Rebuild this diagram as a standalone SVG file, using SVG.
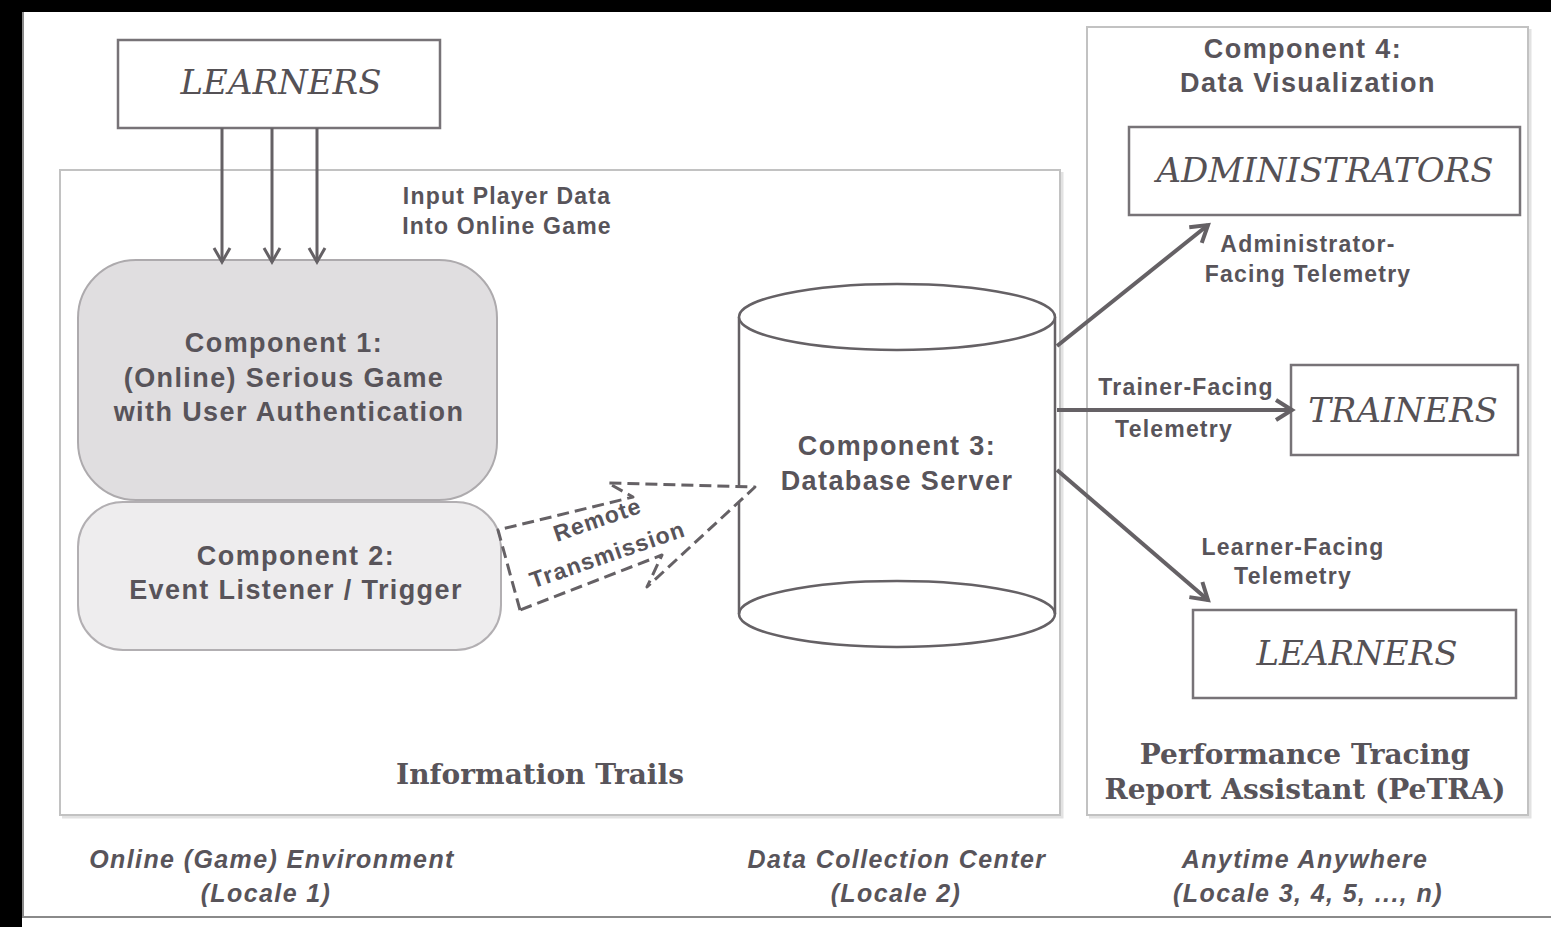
<svg xmlns="http://www.w3.org/2000/svg" width="1551" height="927" viewBox="0 0 1551 927">
  <style>
    .panel { fill: #ffffff; stroke: #c2c2c2; stroke-width: 2; }
    .shadow { fill: none; stroke: #e2e2e2; stroke-width: 3; }
    .box { fill: #ffffff; stroke: #777377; stroke-width: 2.5; }
    .who { font-family: "DejaVu Serif", Georgia, serif; font-style: italic; font-size: 34px; fill: #555155; text-anchor: middle; }
    .bold { font-family: "Liberation Sans", Arial, sans-serif; font-weight: bold; fill: #58545a; text-anchor: middle; }
    .lbl { font-size: 23px; letter-spacing: 1.2px; }
    .comp { font-size: 27px; letter-spacing: 1.4px; }
    .title { font-family: "DejaVu Serif", Georgia, serif; font-weight: bold; font-size: 28px; fill: #58545a; text-anchor: middle; }
    .locale { font-family: "Liberation Sans", Arial, sans-serif; font-style: italic; font-weight: bold; font-size: 25px; letter-spacing: 1.4px; fill: #58545a; text-anchor: middle; }
    .link { fill: none; stroke: #656165; }
  </style>
  <defs>
    <marker id="vHead" viewBox="0 0 20 20" refX="17" refY="10" markerWidth="20" markerHeight="20" markerUnits="userSpaceOnUse" orient="auto">
      <path d="M3,2 L17,10 L3,18" fill="none" stroke="#656165" stroke-width="3"/>
    </marker>
    <marker id="vHeadBig" viewBox="0 0 24 24" refX="20" refY="12" markerWidth="24" markerHeight="24" markerUnits="userSpaceOnUse" orient="auto">
      <path d="M4,2 L20,12 L4,22" fill="none" stroke="#656165" stroke-width="4"/>
    </marker>
  </defs>

  <!-- page background and frame -->
  <rect x="0" y="0" width="1551" height="927" fill="#000000"/>
  <rect x="22" y="12" width="1529" height="915" fill="#ffffff"/>
  <path d="M23,12 V917 H1551" fill="none" stroke="#8a8a8a" stroke-width="2"/>

  <!-- locale panels -->
  <g id="locale-panel-1-2">
    <path class="shadow" d="M62,817 H1062 V172"/>
    <rect class="panel" x="60" y="170" width="1000" height="645"/>
    <text class="title" x="540" y="784">Information Trails</text>
  </g>
  <g id="petra-panel">
    <path class="shadow" d="M1089,817 H1530 V29"/>
    <rect class="panel" x="1087" y="27" width="441" height="788"/>
    <text class="bold comp" x="1303" y="58">Component 4:</text>
    <text class="bold comp" x="1308" y="92">Data Visualization</text>
    <text class="title" x="1305" y="764">Performance Tracing</text>
    <text class="title" x="1305" y="799">Report Assistant (PeTRA)</text>
  </g>

  <!-- input learners -->
  <g id="learners-input">
    <rect class="box" x="118" y="40" width="322" height="88"/>
    <text class="who" x="281" y="94">LEARNERS</text>
  </g>

  <g id="input-label">
    <text class="bold lbl" x="507" y="204">Input Player Data</text>
    <text class="bold lbl" x="507" y="234">Into Online Game</text>
  </g>

  <!-- component 1 -->
  <g id="component-1">
    <rect x="78" y="260" width="419" height="240" rx="58" ry="58" fill="#e0dee0" stroke="#adaaad" stroke-width="2"/>
    <text class="bold comp" x="284" y="352">Component 1:</text>
    <text class="bold comp" x="284" y="387">(Online) Serious Game</text>
    <text class="bold comp" x="289" y="421">with User Authentication</text>
  </g>

  <!-- component 2 -->
  <g id="component-2">
    <rect x="78" y="502" width="423" height="148" rx="45" ry="45" fill="#eeedee" stroke="#b2afb2" stroke-width="2"/>
    <text class="bold comp" x="296" y="565">Component 2:</text>
    <text class="bold comp" x="296" y="599">Event Listener / Trigger</text>
  </g>

  <!-- component 3: database cylinder -->
  <g id="component-3">
    <path d="M739,317 V614 A158,33 0 0 0 1055,614 V317" fill="#ffffff" stroke="#656165" stroke-width="2.5"/>
    <ellipse cx="897" cy="317" rx="158" ry="33" fill="#ffffff" stroke="#656165" stroke-width="2.5"/>
    <path d="M739,614 A158,33 0 0 1 1055,614" fill="none" stroke="#656165" stroke-width="2.5"/>
    <text class="bold comp" x="897" y="455">Component 3:</text>
    <text class="bold comp" x="897" y="490">Database Server</text>
  </g>

  <!-- audiences -->
  <g id="administrators">
    <rect class="box" x="1129" y="127" width="391" height="88"/>
    <text class="who" x="1325" y="182">ADMINISTRATORS</text>
  </g>
  <g id="trainers">
    <rect class="box" x="1291" y="365" width="227" height="90"/>
    <text class="who" x="1403" y="422">TRAINERS</text>
  </g>
  <g id="learners-output">
    <rect class="box" x="1193" y="610" width="323" height="88"/>
    <text class="who" x="1357" y="665">LEARNERS</text>
  </g>

  <!-- connectors -->
  <g id="connectors">
    <path class="link" stroke-width="3" marker-end="url(#vHead)" d="M222,128 V262"/>
    <path class="link" stroke-width="3" marker-end="url(#vHead)" d="M272,128 V262"/>
    <path class="link" stroke-width="3" marker-end="url(#vHead)" d="M317,128 V262"/>

    <!-- remote transmission block arrow -->
    <path d="M520,610 L498,530 L633,497 L608,483 L755,487 L647,587 L662,555 Z" fill="#ffffff" stroke="#656165" stroke-width="3" stroke-dasharray="12,6" stroke-linejoin="round"/>
    <text class="bold lbl" transform="translate(600,527) rotate(-19)">Remote</text>
    <text class="bold lbl" transform="translate(610,562) rotate(-19)">Transmission</text>

    <path class="link" stroke-width="4" marker-end="url(#vHeadBig)" d="M1057,346 L1208,225"/>
    <path class="link" stroke-width="4" marker-end="url(#vHeadBig)" d="M1057,410 L1292,410"/>
    <path class="link" stroke-width="4" marker-end="url(#vHeadBig)" d="M1057,470 L1208,600"/>

    <text class="bold lbl" x="1308" y="252">Administrator-</text>
    <text class="bold lbl" x="1308" y="282">Facing Telemetry</text>
    <text class="bold lbl" x="1186" y="395">Trainer-Facing</text>
    <text class="bold lbl" x="1174" y="437">Telemetry</text>
    <text class="bold lbl" x="1293" y="555">Learner-Facing</text>
    <text class="bold lbl" x="1293" y="584">Telemetry</text>
  </g>

  <!-- locale captions -->
  <g id="locale-captions">
    <text class="locale" x="272" y="868">Online (Game) Environment</text>
    <text class="locale" x="266" y="902">(Locale 1)</text>
    <text class="locale" x="897" y="868">Data Collection Center</text>
    <text class="locale" x="896" y="902">(Locale 2)</text>
    <text class="locale" x="1305" y="868">Anytime Anywhere</text>
    <text class="locale" x="1308" y="902">(Locale 3, 4, 5, ..., n)</text>
  </g>
</svg>
